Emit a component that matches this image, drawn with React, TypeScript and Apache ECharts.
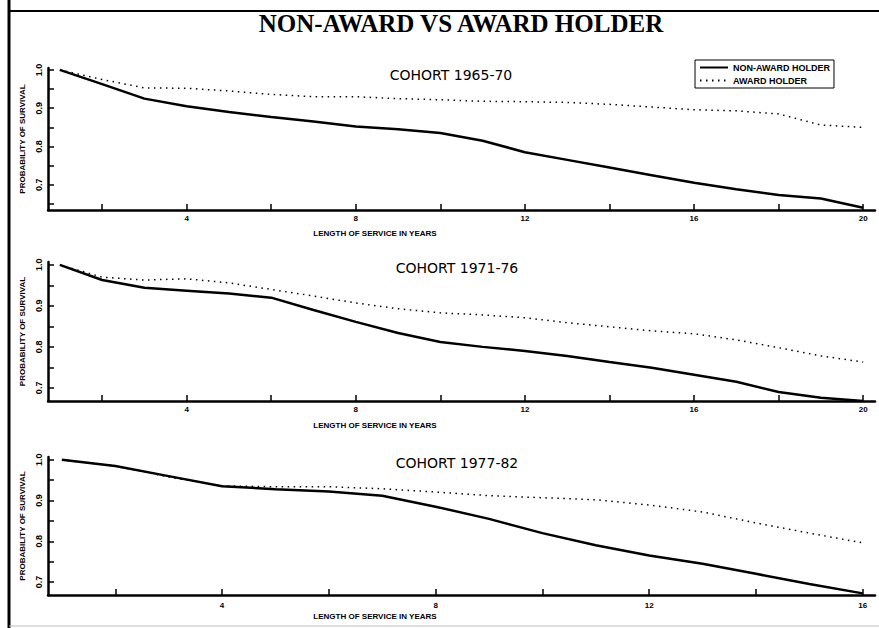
import React, { useEffect, useRef } from "react";
import * as echarts from "echarts";

// ---- Data ----
const years20 = [1, 2, 3, 4, 5, 6, 7, 8, 9, 10, 11, 12, 13, 14, 15, 16, 17, 18, 19, 20];
const years16 = [1, 2, 3, 4, 5, 6, 7, 8, 9, 10, 11, 12, 13, 14, 15, 16];

const nonAward6570 = [1.0, 0.963, 0.925, 0.905, 0.89, 0.877, 0.865, 0.852, 0.845, 0.835, 0.815, 0.785, 0.765, 0.745, 0.725, 0.705, 0.688, 0.673, 0.664, 0.64];
const award6570 = [1.0, 0.975, 0.953, 0.952, 0.945, 0.936, 0.93, 0.93, 0.925, 0.922, 0.918, 0.917, 0.915, 0.91, 0.903, 0.896, 0.893, 0.885, 0.856, 0.85];

const nonAward7176 = [1.0, 0.963, 0.944, 0.937, 0.93, 0.92, 0.89, 0.861, 0.834, 0.812, 0.8, 0.79, 0.778, 0.763, 0.749, 0.732, 0.715, 0.69, 0.676, 0.668];
const award7176 = [1.0, 0.97, 0.963, 0.966, 0.956, 0.94, 0.924, 0.907, 0.893, 0.883, 0.878, 0.871, 0.859, 0.849, 0.839, 0.832, 0.817, 0.798, 0.778, 0.763];

const nonAward7782 = [1.0, 0.985, 0.96, 0.935, 0.928, 0.922, 0.912, 0.885, 0.855, 0.82, 0.79, 0.765, 0.745, 0.72, 0.695, 0.672];
const award7782 = [1.0, 0.985, 0.958, 0.936, 0.934, 0.934, 0.929, 0.921, 0.912, 0.907, 0.902, 0.889, 0.872, 0.845, 0.82, 0.796];

const xTicks20 = [2, 4, 6, 8, 10, 12, 14, 16, 18, 20];
const xLabels20 = [4, 8, 12, 16, 20];
const xTicks16 = [2, 4, 6, 8, 10, 12, 14, 16];
const xLabels16 = [4, 8, 12, 16];
const yTicks = [0.65, 0.7, 0.75, 0.8, 0.85, 0.9, 0.95, 1.0];
const yLabels = [0.7, 0.8, 0.9, 1.0];

const cohortTitles = ["COHORT 1965-70", "COHORT 1971-76", "COHORT 1977-82"];
const seriesNames = ["NON-AWARD HOLDER", "AWARD HOLDER"];

const pair = (xs: number[], ys: number[]) => xs.map((x, i) => [x, ys[i]]);

export default function App() {
  const ref = useRef<HTMLDivElement>(null);
  useEffect(() => {
    if (!ref.current) return;
    const chart = echarts.init(ref.current, null, { renderer: "svg" });
    const boldSmall = { fontFamily: "Liberation Sans", fontWeight: "bold" as const, color: "#000" };

    const grids = [
      { left: 48, top: 68, width: 827, height: 142 },
      { left: 48, top: 262, width: 827, height: 139 },
      { left: 48, top: 457, width: 827, height: 138 },
    ];
    const xRanges = [
      { min: 0.72, max: 20.28, ticks: xTicks20, labels: xLabels20 },
      { min: 0.72, max: 20.28, ticks: xTicks20, labels: xLabels20 },
      { min: 0.74, max: 16.23, ticks: xTicks16, labels: xLabels16 },
    ];
    const yRanges = [
      { min: 0.634, max: 1.005 },
      { min: 0.668, max: 1.007 },
      { min: 0.668, max: 1.007 },
    ];
    const xAxes = xRanges.map((r, i) => ({
      type: "value",
      gridIndex: i,
      min: r.min,
      max: r.max,
      axisLine: { show: true, lineStyle: { color: "#000", width: 2.5 } },
      axisTick: { show: true, inside: true, length: 6, customValues: r.ticks, lineStyle: { color: "#000", width: 1.5 } },
      axisLabel: { show: true, customValues: r.labels, margin: i === 2 ? 6 : 4, fontSize: 8, ...boldSmall },
      splitLine: { show: false },
    }));
    const yAxes = yRanges.map((r, i) => ({
      type: "value",
      gridIndex: i,
      min: r.min,
      max: r.max,
      name: "PROBABILITY OF SURVIVAL",
      nameLocation: "middle",
      nameRotate: 90,
      nameGap: 22,
      nameTextStyle: { fontSize: 8, ...boldSmall },
      axisLine: { show: true, lineStyle: { color: "#000", width: 2.5 } },
      axisTick: { show: true, inside: true, length: 6, customValues: yTicks, lineStyle: { color: "#000", width: 1.5 } },
      axisLabel: {
        show: true,
        customValues: yLabels,
        rotate: 90,
        margin: 5,
        fontSize: 9,
        formatter: (v: number) => v.toFixed(1),
        ...boldSmall,
      },
      splitLine: { show: false },
    }));

    const data = [
      [pair(years20, nonAward6570), pair(years20, award6570)],
      [pair(years20, nonAward7176), pair(years20, award7176)],
      [pair(years16, nonAward7782), pair(years16, award7782)],
    ];
    const series: any[] = [];
    data.forEach((d, i) => {
      series.push({
        type: "line",
        name: seriesNames[0],
        xAxisIndex: i,
        yAxisIndex: i,
        data: d[0],
        symbol: "none",
        lineStyle: { color: "#000", width: 2.5, type: "solid" },
        itemStyle: { color: "#000" },
      });
      series.push({
        type: "line",
        name: seriesNames[1],
        xAxisIndex: i,
        yAxisIndex: i,
        data: d[1],
        symbol: "none",
        lineStyle: { color: "#000", width: 1.5, type: [1.5, 4.5] },
        itemStyle: { color: "#000" },
      });
    });

    const titleY = [75, 268, 463];
    const xNameY = [233, 425, 616];

    chart.setOption({
      animation: false,
      backgroundColor: "#fff",
      grid: grids,
      xAxis: xAxes,
      yAxis: yAxes,
      series,
      legend: {
        data: seriesNames,
        orient: "vertical",
        left: 695,
        top: 60,
        itemWidth: 28,
        itemHeight: 8,
        itemGap: 4,
        padding: [3, 4, 3, 4],
        borderColor: "#000",
        borderWidth: 1,
        itemStyle: { color: "transparent", borderColor: "transparent", borderWidth: 0, opacity: 0 },
        textStyle: { fontSize: 9, ...boldSmall },
      },
      graphic: [
        { type: "line", shape: { x1: 9, y1: 0, x2: 9, y2: 628 }, style: { stroke: "#000", lineWidth: 3 } },
        { type: "line", shape: { x1: 9, y1: 11, x2: 879, y2: 11 }, style: { stroke: "#000", lineWidth: 2 } },
        { type: "line", shape: { x1: 9, y1: 626, x2: 879, y2: 626 }, style: { stroke: "#bbb", lineWidth: 1 } },
        {
          type: "text",
          x: 461,
          y: 23,
          style: {
            text: "NON-AWARD VS AWARD HOLDER",
            fontFamily: "Liberation Serif",
            fontWeight: "bold",
            fontSize: 25,
            fill: "#000",
            align: "center",
            verticalAlign: "middle",
          },
        },
        ...cohortTitles.map((t, i) => ({
          type: "text",
          x: i === 0 ? 451 : 457,
          y: titleY[i],
          style: {
            text: t,
            fontFamily: "DejaVu Sans",
            fontSize: 14,
            fill: "#000",
            align: "center",
            verticalAlign: "middle",
          },
        })),
        ...xNameY.map((y) => ({
          type: "text",
          x: 375,
          y,
          style: {
            text: "LENGTH OF SERVICE IN YEARS",
            fontFamily: "Liberation Sans",
            fontWeight: "bold",
            fontSize: 8,
            fill: "#000",
            align: "center",
            verticalAlign: "middle",
          },
        })),
      ],
    });
    return () => chart.dispose();
  }, []);
  return (
    <div
      ref={ref}
      style={{ position: "fixed", left: 0, top: 0, width: 879, height: 628, background: "#fff" }}
    />
  );
}
